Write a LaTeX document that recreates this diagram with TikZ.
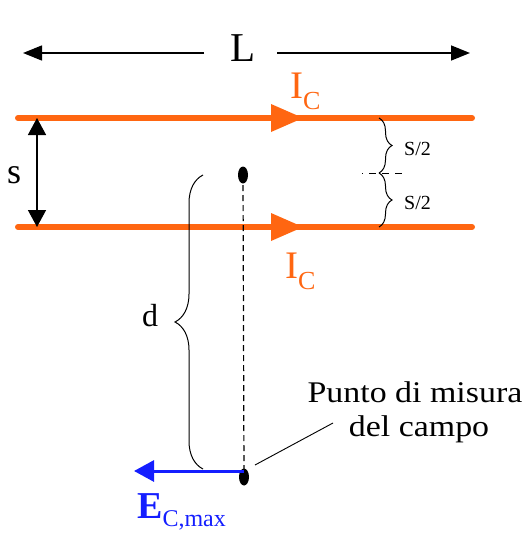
\documentclass[tikz,border=0pt]{standalone}
\usepackage{fontspec}
\setmainfont{Liberation Serif}
\usetikzlibrary{arrows.meta,decorations.pathreplacing}
\definecolor{cond}{RGB}{255,102,17}
\definecolor{efield}{RGB}{20,30,255}
\tikzset{
  condline/.style={draw=cond, line width=6pt, line cap=round},
  condtip/.style={fill=cond, draw=none},
  dimarrow/.style={draw=black, line width=1.5pt, -{Triangle[length=19pt,width=15pt]}},
  bothdim/.style={draw=black, line width=1.5pt, {Triangle[length=17pt,width=18pt]}-{Triangle[length=17pt,width=18pt]}},
  bracel/.style={draw=black, line width=1pt, decorate, decoration={brace, amplitude=#1}},
  lbl/.style={inner sep=0pt, anchor=base west},
  dotpt/.style={ellipse, fill=black, minimum width=10pt, minimum height=17pt, inner sep=0pt}
}
\usetikzlibrary{shapes.geometric}
\begin{document}
\begin{tikzpicture}[x=1pt,y=-1pt]
\useasboundingbox (0,0) rectangle (526,535);
% L dimension
\coordinate (Lleft) at (23,53);
\coordinate (Lright) at (470,53);
\coordinate (La) at (204,53);
\coordinate (Lb) at (277,53);
\draw[dimarrow] (La) -- (Lleft);
\draw[dimarrow] (Lb) -- (Lright);
\node[lbl, font=\fontsize{41}{41}\selectfont] (Ltext) at (230,61) {L};
% conductors
\coordinate (c1a) at (18,118); \coordinate (c1b) at (472,118);
\coordinate (c2a) at (18,227); \coordinate (c2b) at (472,227);
\draw[condline] (c1a) -- (c1b);
\draw[condline] (c2a) -- (c2b);
\fill[condtip] (271,104) -- (303,118) -- (271,132) -- cycle;
\fill[condtip] (271,213) -- (303,227) -- (271,241) -- cycle;
\node[lbl, text=cond, font=\fontsize{39}{39}\selectfont] (ic1) at (290,98) {I\raisebox{-0.3em}{\fontsize{26}{26}\selectfont C}};
\node[lbl, text=cond, font=\fontsize{39}{39}\selectfont] (ic2) at (285,278) {I\raisebox{-0.3em}{\fontsize{26}{26}\selectfont C}};
% s arrow
\coordinate (sa) at (37,118); \coordinate (sb) at (37,227);
\draw[bothdim] (sa) -- (sb);
\node[lbl, font=\fontsize{36}{36}\selectfont] (stext) at (7,183) {s};
% S/2 braces
\coordinate (b1) at (379,118); \coordinate (bm) at (379,173); \coordinate (b2) at (379,227);
\draw[bracel=13pt] (b1) -- (bm);
\draw[bracel=13pt] (bm) -- (b2);
\coordinate (ha) at (362,173); \coordinate (hb) at (406,173);
\draw[line width=1pt, dash pattern=on 7pt off 6pt, dash phase=6pt] (ha) -- (hb);
\node[lbl, font=\fontsize{20}{20}\selectfont] (h1) at (404,155) {S/2};
\node[lbl, font=\fontsize{20}{20}\selectfont] (h2) at (404,209) {S/2};
% measurement points
\node[dotpt] (p1) at (243,175) {};
\node[dotpt] (p2) at (244,477) {};
\draw[line width=1.2pt, dash pattern=on 6pt off 4pt] (p1.center) -- (p2.center);
% d brace
\coordinate (da) at (203,175); \coordinate (db) at (203,469);
\draw[bracel=28pt, decoration={mirror}] (da) -- (db);
\node[lbl, font=\fontsize{32}{32}\selectfont] (dtext) at (142,326) {d};
% E field arrow
\coordinate (ea) at (244,471); \coordinate (eb) at (134,471);
\draw[draw=efield, line width=3pt, -{Triangle[length=20pt,width=21pt]}] (ea) -- (eb);
\node[lbl, text=efield, font=\fontsize{38}{38}\selectfont] (etext) at (137,518) {\bfseries E\raisebox{-0.22em}{\mdseries\fontsize{24}{24}\selectfont C,max}};
% label
\node[inner sep=0pt, anchor=base, font=\fontsize{30}{30}\selectfont] (t1) at (415,402) {\scalebox{1.13}[1]{Punto di misura}};
\node[inner sep=0pt, anchor=base, font=\fontsize{30}{30}\selectfont] (t2) at (419,436) {\scalebox{1.13}[1]{del campo}};
\coordinate (la) at (255,465); \coordinate (lb) at (333,423);
\draw[line width=0.9pt] (la) -- (lb);
\end{tikzpicture}
\end{document}
